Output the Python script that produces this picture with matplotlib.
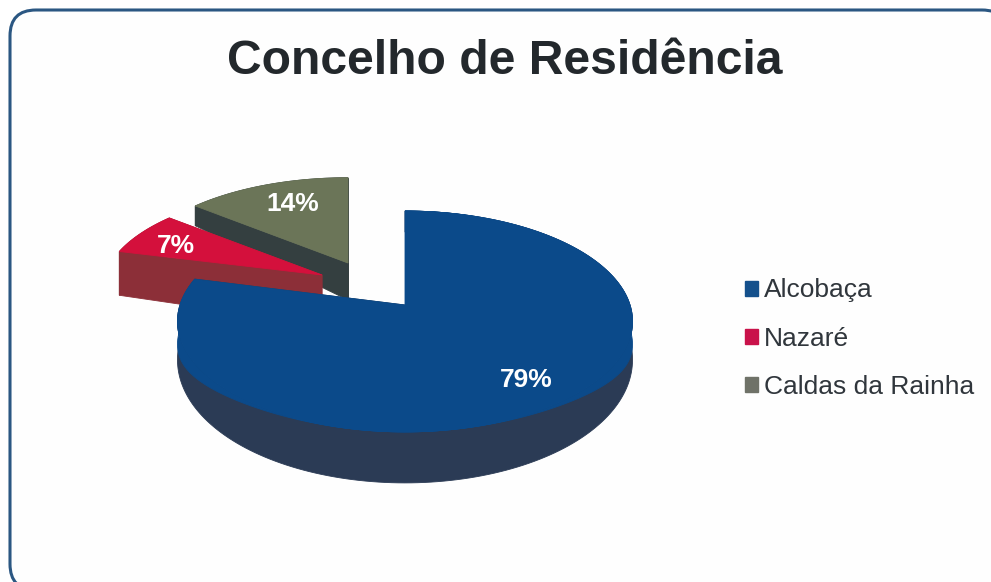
import numpy as np
import matplotlib
matplotlib.use("Agg")
import matplotlib.pyplot as plt
from matplotlib.patches import FancyBboxPatch, Patch

title = "Concelho de Residência"
categories = ["Alcobaça", "Nazaré", "Caldas da Rainha"]
values = [79, 7, 14]

top_colors = ["#0b4a8a", "#d4103c", "#6b7558"]
side_colors = ["#2b3b55", "#8c2f38", "#343f40"]
legend_colors = ["#14508c", "#c9124a", "#6f7268"]

# pie geometry per slice, in pixels: apex, radius, perspective height, wall depth
apex = [(405, 305), (322, 275), (348, 263)]
radius = [225, 217, 217]
height = [108, 98, 98]
depth0 = [36, 50, 37]
depth1 = [15, 25, 27]
rim_light = [24, 0, 0]
label_pos = [(526, 380), (176, 246), (293, 204)]
persp = 0.149

plt.rcParams["font.family"] = ["Liberation Sans", "DejaVu Sans"]
fig = plt.figure(figsize=(9.91, 5.82), dpi=100)
ax = fig.add_axes([0, 0, 1, 1])
ax.set_xlim(0, 991)
ax.set_ylim(582, 0)
ax.axis("off")

ax.add_patch(FancyBboxPatch((10, 10), 998, 580, boxstyle="round,pad=0,rounding_size=26",
                            fc="#fefefe", ec="#2b5782", lw=2.2))


def outline(i, start, stop):
    # circle of the slice seen in perspective, clockwise from 12 o'clock
    t = np.radians(np.linspace(start, stop, 200))
    X = np.sin(t)
    Y = np.cos(t)
    w = 1 + persp * Y
    x = apex[i][0] + radius[i] * X / w
    y = apex[i][1] - height[i] * Y / w
    return x, y, depth0[i] - depth1[i] * Y, X


stops = np.cumsum(values) * 3.6
starts = np.append(0, stops[:-1])

for i in [2, 1, 0]:
    x, y, d, X = outline(i, starts[i], stops[i])
    ax0, ay0 = apex[i]
    # cut faces, then outer wall, then top face
    for k in [0, -1]:
        ax.fill([ax0, x[k], x[k], ax0], [ay0, y[k], y[k] + d[k], ay0 + depth0[i]],
                color=side_colors[i], lw=0.6)
    ax.fill(np.r_[x, x[::-1]], np.r_[y, (y + d)[::-1]], color=side_colors[i], lw=0.6)
    if rim_light[i]:
        strip = rim_light[i] * np.abs(X) ** 4
        ax.fill(np.r_[x, x[::-1]], np.r_[y, (y + strip)[::-1]], color=top_colors[i], lw=0.6)
    ax.fill(np.r_[x, ax0], np.r_[y, ay0], color=top_colors[i], lw=0.6)
    ax.text(label_pos[i][0], label_pos[i][1], f"{values[i]}%", color="white",
            fontsize=19, fontweight="bold", ha="center", va="center")

ax.text(505, 62, title, fontsize=34.6, fontweight="bold", color="#23282c",
        ha="center", va="center")

handles = [Patch(color=c, label=n) for c, n in zip(legend_colors, categories)]
leg = ax.legend(handles=handles, loc="center left", bbox_to_anchor=(0.728, 0.418),
                frameon=False, fontsize=19, handlelength=0.5, handleheight=0.5,
                handletextpad=0.2, labelspacing=0.92, labelcolor="#30363c")

fig.savefig("out.png", dpi=100)
